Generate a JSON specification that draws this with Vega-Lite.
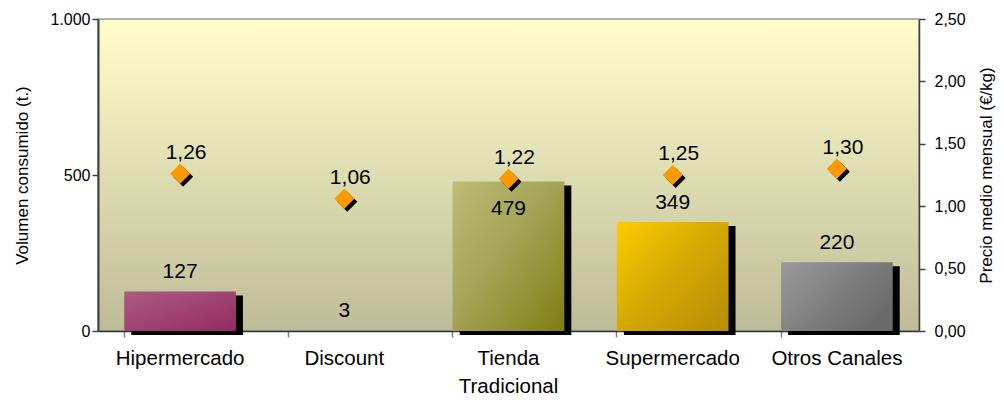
{
  "$schema": "https://vega.github.io/schema/vega-lite/v6.json",
  "width": 821,
  "height": 312,
  "autosize": {"type": "none"},
  "padding": {"left": 98, "top": 19, "right": 85, "bottom": 72},
  "background": "white",
  "view": {
    "fill": {"gradient": "linear", "x1": 0, "y1": 0, "x2": 0, "y2": 1,
      "stops": [{"offset": 0, "color": "#FFFFCC"}, {"offset": 1, "color": "#BDBC98"}]},
    "stroke": "#999999",
    "strokeWidth": 1.5
  },
  "config": {
    "font": "Liberation Sans",
    "locale": {"number": {"decimal": ",", "thousands": ".", "grouping": [3], "currency": ["", " €"]}},
    "axis": {"grid": false, "labelColor": "#000000", "titleColor": "#000000", "titleFontWeight": "normal", "labelFont": "Liberation Sans", "titleFont": "Liberation Sans"}
  },
  "data": {
    "values": [
      {"canal": "Hipermercado", "volumen": 127, "precio": 1.26},
      {"canal": "Discount", "volumen": 3, "precio": 1.06},
      {"canal": "Tienda Tradicional", "volumen": 479, "precio": 1.22},
      {"canal": "Supermercado", "volumen": 349, "precio": 1.25},
      {"canal": "Otros Canales", "volumen": 220, "precio": 1.30}
    ]
  },
  "encoding": {
    "x": {
      "field": "canal", "type": "nominal",
      "sort": ["Hipermercado", "Discount", "Tienda Tradicional", "Supermercado", "Otros Canales"],
      "scale": {"domain": ["Hipermercado", "Discount", "Tienda Tradicional", "Supermercado", "Otros Canales"], "paddingInner": 0.32, "paddingOuter": 0.16},
      "axis": {
        "title": null, "labelAngle": 0, "labelFontSize": 20.5, "labelPadding": 11,
        "labelLineHeight": 28, "labelBaseline": "top",
        "labelExpr": "datum.label == 'Tienda Tradicional' ? ['Tienda', 'Tradicional'] : datum.label",
        "bandPosition": 0, "tickColor": "#808080", "tickSize": 6, "tickWidth": 1.5,
        "domainColor": "#333333", "domainWidth": 1.5
      }
    }
  },
  "layer": [
    {
      "layer": [
        {
          "transform": [{"filter": "datum.volumen > 10"}],
          "mark": {"type": "bar", "color": "#000000", "xOffset": 7, "yOffset": 4},
          "encoding": {"y": {"field": "volumen", "type": "quantitative"}}
        },
        {
          "transform": [{"filter": "datum.canal == 'Hipermercado'"}],
          "mark": {"type": "bar", "fill": {"gradient": "linear", "x1": 0, "y1": 0, "x2": 1, "y2": 1,
            "stops": [{"offset": 0, "color": "#AC5A84"}, {"offset": 1, "color": "#922C60"}]}},
          "encoding": {"y": {"field": "volumen", "type": "quantitative"}}
        },
        {
          "transform": [{"filter": "datum.canal == 'Tienda Tradicional'"}],
          "mark": {"type": "bar", "fill": {"gradient": "linear", "x1": 0, "y1": 0, "x2": 1, "y2": 1,
            "stops": [{"offset": 0, "color": "#BEBC76"}, {"offset": 0.45, "color": "#A6A458"}, {"offset": 1, "color": "#7F7E12"}]}},
          "encoding": {"y": {"field": "volumen", "type": "quantitative"}}
        },
        {
          "transform": [{"filter": "datum.canal == 'Supermercado'"}],
          "mark": {"type": "bar", "fill": {"gradient": "linear", "x1": 0, "y1": 0, "x2": 1, "y2": 1,
            "stops": [{"offset": 0, "color": "#FFCC00"}, {"offset": 0.5, "color": "#D4A805"}, {"offset": 1, "color": "#B48E06"}]}},
          "encoding": {"y": {"field": "volumen", "type": "quantitative"}}
        },
        {
          "transform": [{"filter": "datum.canal == 'Otros Canales'"}],
          "mark": {"type": "bar", "fill": {"gradient": "linear", "x1": 0, "y1": 0, "x2": 1, "y2": 0.6,
            "stops": [{"offset": 0, "color": "#9A9A9A"}, {"offset": 1, "color": "#6A6A6A"}]}},
          "encoding": {"y": {"field": "volumen", "type": "quantitative"}}
        },
        {
          "mark": {"type": "text", "fontSize": 21, "color": "#000000", "baseline": "middle",
            "dy": {"expr": "datum.canal == 'Tienda Tradicional' ? 27 : -19"}},
          "encoding": {
            "y": {"field": "volumen", "type": "quantitative",
              "scale": {"domain": [0, 1000], "nice": false},
              "axis": {"title": "Volumen consumido (t.)", "values": [0, 500, 1000], "format": ",d",
                "labelFontSize": 16, "titleFontSize": 17, "titlePadding": 18,
                "domainColor": "#404040", "domainWidth": 2, "tickColor": "#404040", "tickSize": 6, "tickWidth": 1.5}},
            "text": {"field": "volumen", "type": "quantitative", "format": "d"}
          }
        }
      ]
    },
    {
      "layer": [
        {
          "mark": {"type": "point", "shape": "diamond", "filled": true, "size": 400, "color": "#000000", "opacity": 1, "xOffset": 3, "yOffset": 3},
          "encoding": {"y": {"field": "precio", "type": "quantitative"}}
        },
        {
          "mark": {"type": "point", "shape": "diamond", "filled": true, "size": 400, "color": "#FF9900", "opacity": 1},
          "encoding": {"y": {"field": "precio", "type": "quantitative"}}
        },
        {
          "mark": {"type": "text", "fontSize": 21, "color": "#000000", "baseline": "middle", "dy": -21, "dx": 6},
          "encoding": {
            "y": {"field": "precio", "type": "quantitative",
              "scale": {"domain": [0, 2.5], "nice": false},
              "axis": {"orient": "right", "title": "Precio medio mensual (€/kg)", "titleAngle": 270,
                "values": [0, 0.25, 0.5, 0.75, 1, 1.25, 1.5, 1.75, 2, 2.25, 2.5], "format": ".2f",
                "labelFontSize": 16, "labelPadding": 9, "titleFontSize": 17, "titlePadding": 30,
                "domainColor": "#404040", "domainWidth": 1.5, "tickColor": "#404040", "tickSize": 6, "tickWidth": 1.5}},
            "text": {"field": "precio", "type": "quantitative", "format": ".2f"}
          }
        }
      ]
    }
  ],
  "resolve": {"scale": {"y": "independent"}}
}
